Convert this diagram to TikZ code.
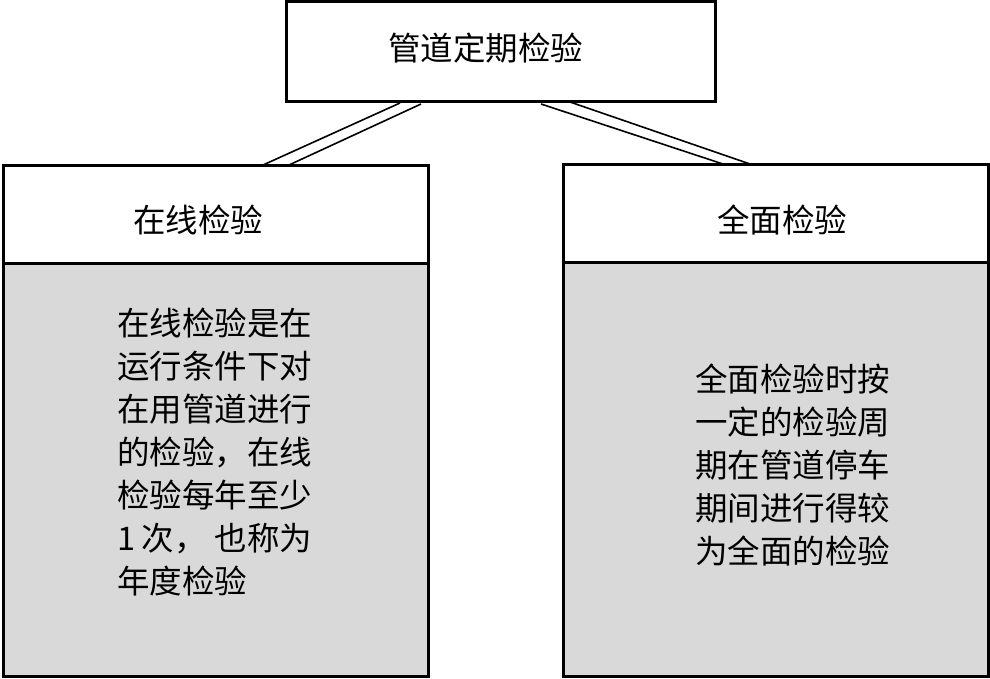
\documentclass[tikz,border=0pt]{standalone}
\usepackage{fontspec}
\newfontfamily\cjk{Noto Sans CJK SC}
\usetikzlibrary{calc}
\definecolor{bodygray}{HTML}{D9D9D9}
\begin{document}
\begin{tikzpicture}[x=1pt,y=1pt,
  box/.style={draw, line width=3pt, rectangle, outer sep=0pt, inner sep=0pt, anchor=north west},
  conn/.style={line width=1.6pt},
  txt/.style={font=\cjk\fontsize{32.5pt}{43pt}\selectfont, inner sep=0pt, outer sep=0pt},
  bodytxt/.style={txt, align=left, anchor=west}]
\useasboundingbox (0,0) rectangle (990,-678);
\fill[white] (0,0) rectangle (990,-678);
% boxes
\node[box, minimum width=429pt, minimum height=100pt] (top) at (286,-1) {};
\node[box, fill=bodygray, minimum width=425pt, minimum height=413pt] (lb) at (3,-263) {};
\node[box, minimum width=425pt, minimum height=98pt] (lh) at (3,-165) {};
\node[box, fill=bodygray, minimum width=425pt, minimum height=414pt] (rb) at (563,-262) {};
\node[box, minimum width=425pt, minimum height=98pt] (rh) at (563,-164) {};
% texts
\node[txt] (toptxt) at (485.5,-48) {管道定期检验};
\node[txt] (lht) at (198,-220) {在线检验};
\node[txt] (rht) at (782,-220) {全面检验};
\node[bodytxt] (lbt) at (117,-452.5) {在线检验是在\\运行条件下对\\在用管道进行\\的检验，在线\\检验每年至少\\1\hspace{0.2em}次，\hspace{0.25em}也称为\\年度检验};
\node[bodytxt] (rbt) at (695,-465) {全面检验时按\\一定的检验周\\期在管道停车\\期间进行得较\\为全面的检验};
% connectors (double lines)
\draw[conn] ($(top.south west)+(114,-2)$) -- ($(lh.north west)+(260,0)$);
\draw[conn] ($(top.south west)+(135,-3)$) -- ($(lh.north west)+(286,0)$);
\draw[conn] ($(top.south west)+(284,-1)$) -- ($(rh.north west)+(187,0)$);
\draw[conn] ($(top.south west)+(255,-3)$) -- ($(rh.north west)+(160,0)$);
\end{tikzpicture}
\end{document}
